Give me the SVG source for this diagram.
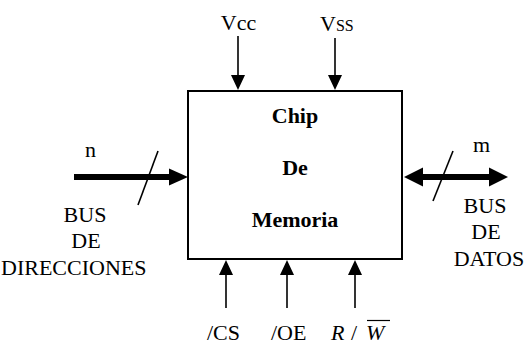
<svg xmlns="http://www.w3.org/2000/svg" width="525" height="345" viewBox="0 0 525 345">
<style>
text{fill:#000;font-size:22px}
.b{font-weight:bold;text-anchor:middle}
.c{text-anchor:middle}
.i{font-style:italic}
.thin{stroke:#000;stroke-width:1.6;fill:none}
.thick{stroke:#000;stroke-width:6;fill:none}
.head{fill:#000}
</style>
<rect width="525" height="345" fill="#fff"/>
<g id="chip" font-family="Liberation Serif, Times New Roman, serif">
<rect x="188" y="91" width="214" height="168" fill="#fff" stroke="#000" stroke-width="2"/>
<text class="b" x="295" y="123">Chip</text>
<text class="b" x="295" y="175">De</text>
<text class="b" x="295" y="227">Memoria</text>
</g>
<g id="connectors">
<line class="thin" x1="238" y1="36" x2="238" y2="78"/>
<polygon class="head" points="231,75 245,75 238,90"/>
<line class="thin" x1="335" y1="38" x2="335" y2="78"/>
<polygon class="head" points="328,75 342,75 335,90"/>
<line class="thick" x1="74" y1="177" x2="172" y2="177"/>
<polygon class="head" points="169,168.5 188,177 169,185.5"/>
<line class="thin" x1="158" y1="151" x2="138" y2="205"/>
<line class="thick" x1="420" y1="177" x2="491" y2="177"/>
<polygon class="head" points="423,167.5 404,177 423,186.5"/>
<polygon class="head" points="489,167.5 508,177 489,186.5"/>
<line class="thin" x1="453" y1="151" x2="433" y2="201"/>
<line class="thin" x1="226" y1="272" x2="226" y2="308"/>
<polygon class="head" points="219,275 233,275 226,260"/>
<line class="thin" x1="287" y1="272" x2="287" y2="308"/>
<polygon class="head" points="280,275 294,275 287,260"/>
<line class="thin" x1="355" y1="272" x2="355" y2="308"/>
<polygon class="head" points="348,275 362,275 355,260"/>
</g>
<g id="labels" font-family="Liberation Serif, Times New Roman, serif">
<text class="c" x="238.5" y="30">Vcc</text>
<text x="320" y="31">V<tspan font-size="16">SS</tspan></text>
<text x="85" y="157" font-size="30">n</text>
<text x="473" y="152" font-size="30">m</text>
<text class="c" x="85" y="222">BUS</text>
<text class="c" x="86" y="248">DE</text>
<text x="1" y="275">DIRECCIONES</text>
<text class="c" x="485" y="213">BUS</text>
<text class="c" x="486" y="239">DE</text>
<text class="c" x="489" y="266">DATOS</text>
<text x="207" y="340">/CS</text>
<text x="271" y="340">/OE</text>
<text class="i" x="331" y="340">R</text>
<text x="351" y="340">/</text>
<text class="i" x="366" y="340" font-size="23">W</text>
<line x1="367" y1="320.5" x2="390" y2="320.5" stroke="#000" stroke-width="1.2"/>
</g>
</svg>
